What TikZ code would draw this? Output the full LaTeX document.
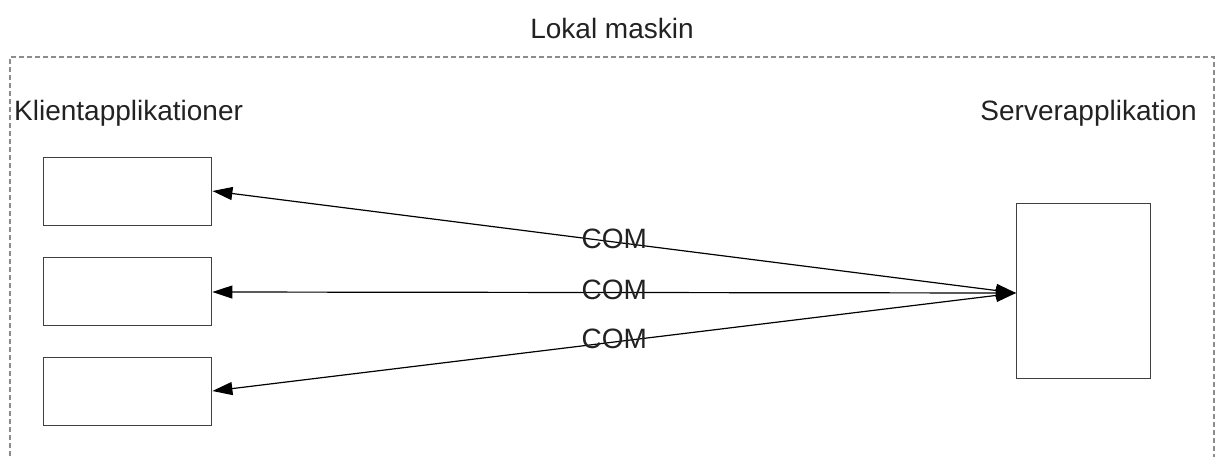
\documentclass[tikz,border=0pt]{standalone}
\usepackage{fontspec}
\setmainfont{Liberation Sans}
\usetikzlibrary{arrows.meta}
\definecolor{frame}{HTML}{8C8C8C}
\definecolor{boxline}{HTML}{404040}
\definecolor{txt}{HTML}{222222}
\begin{document}
\begin{tikzpicture}[x=1pt,y=-1pt,
  appbox/.style={draw=boxline,line width=1.4pt,fill=white},
  link/.style={draw=black,line width=1.2pt,{Triangle[length=20pt,width=13pt]}-{Triangle[length=20pt,width=13pt]}},
  lbl/.style={text=txt,font=\fontsize{28}{33}\selectfont,inner sep=0pt},
  comlbl/.style={lbl,midway,yshift=3pt}]
\useasboundingbox (0,0) rectangle (1216,456);
% machine boundary (bottom edge lies below the page)
\begin{scope}
\clip (0,0) rectangle (1216,456);
\draw[frame,line width=1.2pt,dash pattern=on 5pt off 3pt] (10,480) -- (10,57) -- (1214,57) -- (1214,480);
\end{scope}
\node[lbl] (machine) at (612,28) {Lokal maskin};
\node[lbl,anchor=west] (clients) at (14,113) {Klientapplikationer};
\node[lbl,anchor=east] (serverlbl) at (1197,113) {Serverapplikation};
% client applications
\node[appbox,minimum width=168pt,minimum height=68pt,anchor=north west] (c1) at (43,157) {};
\node[appbox,minimum width=168pt,minimum height=68pt,anchor=north west] (c2) at (43,257) {};
\node[appbox,minimum width=168pt,minimum height=68pt,anchor=north west] (c3) at (43,357) {};
% server application
\node[appbox,minimum width=134pt,minimum height=175pt,anchor=north west] (srv) at (1016,203) {};
\coordinate (sp) at (1016,293);
% COM links
\draw[link] (sp) -- (c1.east |- 0,191) node[comlbl] {COM};
\draw[link] (sp) -- (c2.east |- 0,292) node[comlbl] {COM};
\draw[link] (sp) -- (c3.east |- 0,391) node[comlbl] {COM};
\end{tikzpicture}
\end{document}
